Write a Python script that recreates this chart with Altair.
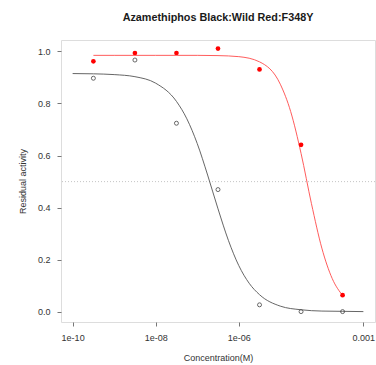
import altair as alt
import pandas as pd

# ---- data ----
conc = [3.16e-10, 3.16e-9, 3.16e-8, 3.16e-7, 3.16e-6, 3.16e-5, 3.16e-4]
wild = [0.897, 0.967, 0.724, 0.469, 0.026, 0.0, 0.0]          # black, open circles
f348y = [0.962, 0.994, 0.994, 1.011, 0.931, 0.641, 0.063]     # red, filled circles

# fitted curves (x as log10 concentration)
wild_fit_log = [-10, -9.5, -9, -8.5, -8, -7.5, -7.25, -7, -6.75, -6.5, -6.25,
                -6, -5.75, -5.5, -5, -4.5, -4, -3.5, -3]
wild_fit_val = [0.915, 0.914, 0.911, 0.903, 0.878, 0.808, 0.741, 0.646, 0.525,
                0.395, 0.274, 0.177, 0.109, 0.065, 0.021, 0.007, 0.002, 0.001, 0.0]
red_fit_log = [-9.5, -9, -8.5, -8, -7.5, -7, -6.5, -6, -5.5, -5, -4.75, -4.5,
               -4.25, -4, -3.75, -3.5]
red_fit_val = [0.985, 0.985, 0.985, 0.985, 0.985, 0.985, 0.984, 0.980, 0.960,
               0.874, 0.769, 0.608, 0.415, 0.244, 0.127, 0.062]

tick_values = [1e-10, 1e-8, 1e-6, 1e-3]
tick_labels = ["1e-10", "1e-08", "1e-06", "0.001"]
y_ticks = [0.0, 0.2, 0.4, 0.6, 0.8, 1.0]

title_text = "Azamethiphos Black:Wild Red:F348Y"
x_title = "Concentration(M)"
y_title = "Residual activity"

# ---- tables ----
pts = pd.DataFrame({"conc": conc, "wild": wild, "f348y": f348y})
wild_fit = pd.DataFrame({"conc": [10 ** v for v in wild_fit_log], "val": wild_fit_val})
red_fit = pd.DataFrame({"conc": [10 ** v for v in red_fit_log], "val": red_fit_val})

label_expr = ""
for v, lab in zip(tick_values[:-1], tick_labels[:-1]):
    label_expr += f"datum.value < {v * 3} ? '{lab}' : "
label_expr += f"'{tick_labels[-1]}'"

FONT = "Liberation Sans"
xscale = alt.Scale(type="log", domain=[10 ** -10.28, 10 ** -2.72], nice=False)
yscale = alt.Scale(domain=[-0.04, 1.044], nice=False, zero=False)

xaxis = alt.Axis(values=tick_values, labelExpr=label_expr, title=x_title,
                 grid=False, domain=False, tickSize=4, tickColor="#777",
                 labelPadding=7, labelFont=FONT, labelFontSize=9, labelColor="#333",
                 titleFont=FONT, titleFontSize=9, titleFontWeight="normal",
                 titleColor="#333", titleY=38.5, titleBaseline="alphabetic")
yaxis = alt.Axis(values=y_ticks, format=".1f", title=y_title, grid=False,
                 domain=False, tickSize=4, tickColor="#777", labelPadding=7,
                 labelFont=FONT, labelFontSize=9, labelColor="#333",
                 titleFont=FONT, titleFontSize=9, titleFontWeight="normal",
                 titleColor="#333", titleX=-35.5, titleY=141, titleAngle=270,
                 titleBaseline="alphabetic", titleAlign="center")

x = alt.X("conc:Q", scale=xscale, axis=xaxis)
y = alt.Y("val:Q", scale=yscale, axis=yaxis)

half = alt.Chart(pts).mark_rule(color="#cccccc", strokeDash=[1, 2], strokeWidth=1).encode(
    y=alt.datum(0.5, scale=yscale)
)

black_line = alt.Chart(wild_fit).mark_line(color="#555555", strokeWidth=0.9,
                                           interpolate="monotone").encode(x=x, y=y)
red_line = alt.Chart(red_fit).mark_line(color="#ff4a4a", strokeWidth=0.9,
                                        interpolate="monotone").encode(x=x, y=y)

black_pts = alt.Chart(pts).mark_point(shape="circle", filled=False, size=16,
                                      stroke="#444444", strokeWidth=0.8, opacity=1).encode(
    x=x, y=alt.Y("wild:Q", scale=yscale, axis=yaxis)
)
red_pts = alt.Chart(pts).mark_circle(size=22, color="#ff0000", opacity=1).encode(
    x=x, y=alt.Y("f348y:Q", scale=yscale, axis=yaxis)
)

chart = alt.layer(half, black_line, red_line, black_pts, red_pts).properties(
    width=314,
    height=282,
    title=alt.TitleParams(title_text, font=FONT, fontSize=10.8, fontWeight="bold",
                          color="#1a1a1a", anchor="middle", baseline="alphabetic",
                          offset=8),
    autosize=alt.AutoSizeParams(type="none"),
    padding={"left": 61, "top": 40, "right": 1, "bottom": 43},
).configure_view(
    stroke="#999999", strokeWidth=1.2
).configure(background="white")

chart.save("out.html", embed_options={"renderer": "svg", "actions": False})
